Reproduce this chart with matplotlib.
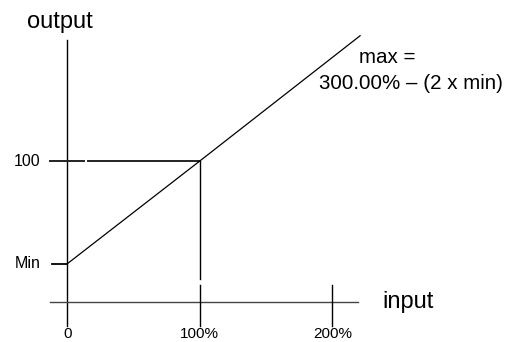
import matplotlib
matplotlib.use("Agg")
import matplotlib.pyplot as plt

plt.rcParams['font.family'] = ['Liberation Sans', 'DejaVu Sans']

# transfer curve (input %, output)
input_pts = [0, 100, 221]
output_pts = [27, 100, 189]
min_level = 27

x_ticks = [0, 100, 200]
x_tick_labels = ["0", "100%", "200%"]
y_ticks = [min_level, 100]
y_tick_labels = ["Min", "100"]

max_text = ["max =", "300.00% \u2013 (2 x min)"]

fig = plt.figure(figsize=(5.2, 3.42), dpi=100)
ax = fig.add_axes([0, 0, 1, 1])
ax.set_xlim(-50.8, 341.7)
ax.set_ylim(-28.6, 214.4)
ax.axis('off')

lw = 1.0
k = 'black'

# axes drawn by hand
ax.plot([0, 0], [-16.9, 186], color=k, lw=lw)
ax.plot([-13, 219.6], [0, 0], color='#444444', lw=lw)

# x ticks (0 is the y axis itself)
for xt in x_ticks[1:]:
    ax.plot([xt, xt], [-16.9, 11.9], color=k, lw=lw)

# guide at 100 / 100%
ax.plot([-13, 12.6], [100, 100], color='#222222', lw=1.4)
ax.plot([15.4, 100], [100, 100], color='#222222', lw=1.4)
ax.plot([100, 100], [100, 15.9], color=k, lw=lw)

# Min tick
ax.plot([-11.6, 0], [min_level, min_level], color=k, lw=1.3)

# transfer line
ax.plot(input_pts, output_pts, color=k, lw=0.9)

# labels
for xt, lab in zip(x_ticks, x_tick_labels):
    ax.text(xt, -28.2, lab, ha='center', va='bottom', fontsize=11)
for yt, lab in zip(y_ticks, y_tick_labels):
    ax.text(-20.5, yt, lab, ha='right', va='center', fontsize=11.5)

ax.text(-30.4, 199, "output", ha='left', va='center', fontsize=17)
ax.text(238, 0, "input", ha='left', va='center', fontsize=17)
ax.text(220.2, 173.2, max_text[0], ha='left', va='center', fontsize=14.8)
ax.text(190.2, 155.4, max_text[1], ha='left', va='center', fontsize=14.8)

fig.savefig("out.png", dpi=100)
